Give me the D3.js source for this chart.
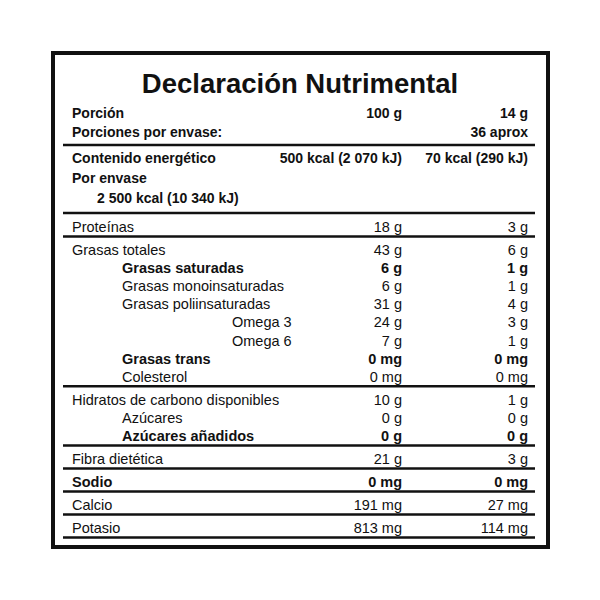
<!DOCTYPE html>
<html><head><meta charset="utf-8">
<script src="https://cdn.jsdelivr.net/npm/d3@7"></script>
<style>body{margin:0;background:#fff}</style>
</head><body><div id="chart"></div>
<script>
// Table data
const title = "Declaración Nutrimental";
const portionLabels = ["Porción", "Porciones por envase:"];
const portionA = ["100 g", ""];
const portionB = ["14 g", "36 aprox"];
const energyLabels = ["Contenido energético", "Por envase", "2 500 kcal (10 340 kJ)"];
const energyA = ["500 kcal (2 070 kJ)", "", ""];
const energyB = ["70 kcal (290 kJ)", "", ""];

const nutrients = ["Proteínas", "Grasas totales", "Grasas saturadas", "Grasas monoinsaturadas",
  "Grasas poliinsaturadas", "Omega 3", "Omega 6", "Grasas trans", "Colesterol",
  "Hidratos de carbono disponibles", "Azúcares", "Azúcares añadidos", "Fibra dietética",
  "Sodio", "Calcio", "Potasio"];
const per100 = ["18 g", "43 g", "6 g", "6 g", "31 g", "24 g", "7 g", "0 mg", "0 mg",
  "10 g", "0 g", "0 g", "21 g", "0 mg", "191 mg", "813 mg"];
const perPortion = ["3 g", "6 g", "1 g", "1 g", "4 g", "3 g", "1 g", "0 mg", "0 mg",
  "1 g", "0 g", "0 g", "3 g", "0 mg", "27 mg", "114 mg"];
const level = [0, 0, 1, 1, 1, 2, 2, 1, 1, 0, 1, 1, 0, 0, 0, 0];
const bold = [0, 0, 1, 0, 0, 0, 0, 1, 0, 0, 0, 1, 0, 1, 0, 0];
const section = [0, 1, 1, 1, 1, 1, 1, 1, 1, 2, 2, 2, 3, 4, 5, 6];

const W = 600, H = 600;
const font = "'Liberation Sans', Arial, sans-serif";
const svg = d3.select("#chart").append("svg").attr("width", W).attr("height", H)
  .style("font-family", font);

svg.append("rect").attr("x", 53).attr("y", 53).attr("width", 495).attr("height", 494)
  .attr("fill", "#fff").attr("stroke", "#111").attr("stroke-width", 4);

const xL = 72, xA = 402, xB = 528, lineX1 = 63, lineX2 = 535;
const indent = d3.scaleOrdinal().domain([0, 1, 2]).range([xL, 122, 232]);

function hline(y) {
  svg.append("line").attr("x1", lineX1).attr("x2", lineX2).attr("y1", y).attr("y2", y)
    .attr("stroke", "#111").attr("stroke-width", 2.5);
}
function row(y, label, a, b, x, isBold, size) {
  const w = isBold ? "bold" : "normal";
  svg.append("text").attr("x", x).attr("y", y).attr("font-size", size).attr("font-weight", w)
    .attr("fill", "#111").text(label);
  svg.append("text").attr("x", xA).attr("y", y).attr("font-size", size).attr("font-weight", w)
    .attr("text-anchor", "end").attr("fill", "#111").text(a);
  svg.append("text").attr("x", xB).attr("y", y).attr("font-size", size).attr("font-weight", w)
    .attr("text-anchor", "end").attr("fill", "#111").text(b);
}

svg.append("text").attr("x", W / 2).attr("y", 93).attr("text-anchor", "middle")
  .attr("font-size", 27.5).attr("font-weight", "bold").attr("fill", "#111").text(title);

const yPortion = d3.scaleLinear().domain([0, 1]).range([118, 137]);
portionLabels.forEach((l, i) => row(yPortion(i), l, portionA[i], portionB[i], xL, true, 14));
hline(145);

const yEnergy = d3.scaleLinear().domain([0, 1]).range([163, 183]);
energyLabels.forEach((l, i) => row(yEnergy(i), l, energyA[i], energyB[i], i === 2 ? 97 : xL, true, 14));
hline(213);

// nutrient rows: within-section step and section gap
const step = 18.1, gap = 23;
let y = 232;
nutrients.forEach((n, i) => {
  if (i > 0) y += section[i] === section[i - 1] ? step : gap;
  row(y, n, per100[i], perPortion[i], indent(level[i]), bold[i] === 1, 14.5);
  if (i === nutrients.length - 1 || section[i + 1] !== section[i]) hline(y + 4.5);
});
</script></body></html>
